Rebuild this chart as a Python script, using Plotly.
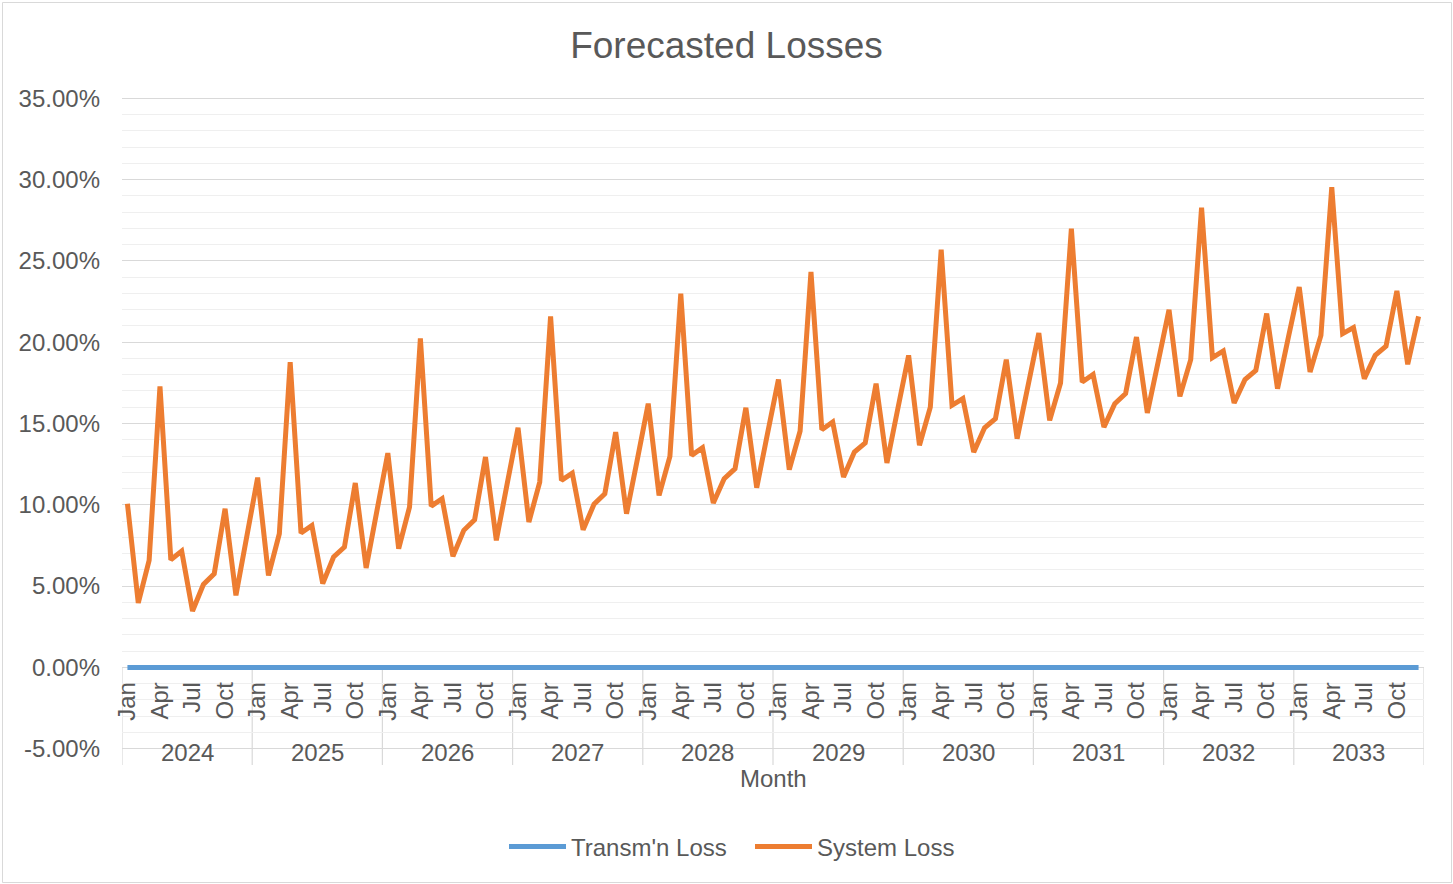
import plotly.graph_objects as go

# ---------------- data ----------------
years = ["2024", "2025", "2026", "2027", "2028", "2029", "2030", "2031", "2032", "2033"]
months = ["Jan", "Feb", "Mar", "Apr", "May", "Jun", "Jul", "Aug", "Sep", "Oct", "Nov", "Dec"]
shown_months = ["Jan", "Apr", "Jul", "Oct"]

# y-axis ticks (fractions) and their labels
y_ticks = [-0.05, 0.0, 0.05, 0.10, 0.15, 0.20, 0.25, 0.30, 0.35]
y_tick_labels = ["-5.00%", "0.00%", "5.00%", "10.00%", "15.00%", "20.00%",
                 "25.00%", "30.00%", "35.00%"]

# System Loss (%), one list per year (Jan..Dec)
sys_2024 = [10.07, 3.96, 6.58, 17.28, 6.62, 7.15, 3.47, 5.10, 5.76, 9.76, 4.43, 8.05]
sys_2025 = [11.67, 5.66, 8.22, 18.78, 8.26, 8.73, 5.15, 6.79, 7.40, 11.34, 6.11, 9.65]
sys_2026 = [13.18, 7.30, 9.86, 20.24, 9.92, 10.38, 6.83, 8.43, 9.08, 12.94, 7.81, 11.30]
sys_2027 = [14.74, 8.94, 11.40, 21.59, 11.50, 11.95, 8.47, 10.03, 10.68, 14.47, 9.45, 12.80]
sys_2028 = [16.22, 10.58, 12.98, 22.99, 13.04, 13.51, 10.11, 11.60, 12.22, 15.97, 11.05, 14.40]
sys_2029 = [17.70, 12.16, 14.54, 24.32, 14.62, 15.09, 11.71, 13.24, 13.80, 17.45, 12.57, 15.90]
sys_2030 = [19.19, 13.66, 16.01, 25.69, 16.12, 16.53, 13.24, 14.74, 15.30, 18.93, 14.07, 17.30]
sys_2031 = [20.56, 15.19, 17.49, 26.98, 17.55, 18.02, 14.78, 16.22, 16.84, 20.32, 15.65, 18.80]
sys_2032 = [22.00, 16.67, 18.93, 28.28, 19.05, 19.46, 16.26, 17.70, 18.27, 21.76, 17.14, 20.30]
sys_2033 = [23.39, 18.17, 20.42, 29.54, 20.53, 20.90, 17.76, 19.19, 19.75, 23.15, 18.64, 21.59]

# Transm'n Loss (%), Jan..Dec per year
trn_2024 = [0.0, 0.0, 0.0, 0.0, 0.0, 0.0, 0.0, 0.0, 0.0, 0.0, 0.0, 0.0]
trn_2025 = [0.0, 0.0, 0.0, 0.0, 0.0, 0.0, 0.0, 0.0, 0.0, 0.0, 0.0, 0.0]
trn_2026 = [0.0, 0.0, 0.0, 0.0, 0.0, 0.0, 0.0, 0.0, 0.0, 0.0, 0.0, 0.0]
trn_2027 = [0.0, 0.0, 0.0, 0.0, 0.0, 0.0, 0.0, 0.0, 0.0, 0.0, 0.0, 0.0]
trn_2028 = [0.0, 0.0, 0.0, 0.0, 0.0, 0.0, 0.0, 0.0, 0.0, 0.0, 0.0, 0.0]
trn_2029 = [0.0, 0.0, 0.0, 0.0, 0.0, 0.0, 0.0, 0.0, 0.0, 0.0, 0.0, 0.0]
trn_2030 = [0.0, 0.0, 0.0, 0.0, 0.0, 0.0, 0.0, 0.0, 0.0, 0.0, 0.0, 0.0]
trn_2031 = [0.0, 0.0, 0.0, 0.0, 0.0, 0.0, 0.0, 0.0, 0.0, 0.0, 0.0, 0.0]
trn_2032 = [0.0, 0.0, 0.0, 0.0, 0.0, 0.0, 0.0, 0.0, 0.0, 0.0, 0.0, 0.0]
trn_2033 = [0.0, 0.0, 0.0, 0.0, 0.0, 0.0, 0.0, 0.0, 0.0, 0.0, 0.0, 0.0]

system_loss = (sys_2024 + sys_2025 + sys_2026 + sys_2027 + sys_2028 +
               sys_2029 + sys_2030 + sys_2031 + sys_2032 + sys_2033)
transm_loss = (trn_2024 + trn_2025 + trn_2026 + trn_2027 + trn_2028 +
               trn_2029 + trn_2030 + trn_2031 + trn_2032 + trn_2033)

# ---------------- build ----------------
n = len(years) * len(months)
xs = list(range(n))
month_of = [months[i % 12] for i in xs]
hover = [f"{month_of[i]} {years[i // 12]}" for i in xs]

FONT = "Liberation Sans, Arial, sans-serif"
TXT = "#595959"
GRID = "#d9d9d9"
MINOR = "#efefef"
FS = 24

fig = go.Figure()
fig.add_trace(go.Scatter(
    x=xs, y=[v / 100 for v in transm_loss], name="Transm'n Loss",
    mode="lines", line=dict(color="#5b9bd5", width=5), text=hover,
    hovertemplate="%{text}: %{y:.2%}<extra>Transm'n Loss</extra>"))
fig.add_trace(go.Scatter(
    x=xs, y=[v / 100 for v in system_loss], name="System Loss",
    mode="lines", line=dict(color="#ed7d31", width=5), text=hover,
    hovertemplate="%{text}: %{y:.2%}<extra>System Loss</extra>"))

# plot area in pixels: x 122..1424, y 98..749
L, R, T, B = 122, 1424, 98, 749
W, H = R - L, B - T


def px(xp):
    return (xp - L) / W


def py(yp):
    return (B - yp) / H


y_lo, y_hi = -0.0502, 0.3502
y0_paper = (0 - y_lo) / (y_hi - y_lo)  # paper position of y = 0

tickvals = [i for i in xs if month_of[i] in shown_months]
ticktext = [month_of[i] for i in tickvals]

# minor gridlines every 1%, skipping the major 5% positions
minor_vals = [k / 100 for k in range(-5, 36) if k % 5 != 0]

shapes = []
# outermost major gridlines (plotly drops grid lines at the range edges)
for yv in (y_ticks[0], y_ticks[-1]):
    shapes.append(dict(type="line", xref="paper", yref="y", x0=0, x1=1,
                       y0=yv, y1=yv, line=dict(color=GRID, width=1.2),
                       layer="below"))
for k in range(len(years) + 1):
    shapes.append(dict(type="line", xref="x", yref="paper",
                       x0=k * 12 - 0.5, x1=k * 12 - 0.5,
                       y0=py(765), y1=y0_paper,
                       line=dict(color=GRID, width=1.2), layer="below"))
# chart border
shapes.append(dict(type="rect", xref="paper", yref="paper",
                   x0=px(2.5), x1=px(1451.5), y0=py(882.5), y1=py(2.5),
                   line=dict(color="#d9d9d9", width=1), layer="below"))

annotations = []
for k, yr in enumerate(years):
    annotations.append(dict(text=yr, xref="x", yref="paper", x=k * 12 + 5.5,
                            y=py(752), showarrow=False, xanchor="center",
                            yanchor="middle", font=dict(size=FS, color=TXT, family=FONT)))
annotations.append(dict(text="Month", xref="paper", yref="paper", x=px(773),
                        y=py(778), showarrow=False, xanchor="center", yanchor="middle",
                        font=dict(size=FS, color=TXT, family=FONT)))

fig.update_layout(
    width=1453, height=884,
    margin=dict(l=L, r=1453 - R, t=T, b=884 - B, autoexpand=False),
    paper_bgcolor="white", plot_bgcolor="white",
    font=dict(family=FONT, color=TXT, size=FS),
    title=dict(text="Forecasted Losses", x=0.5, xref="container", xanchor="center",
               y=1 - 45 / 884, yref="container", yanchor="middle",
               font=dict(size=37, color=TXT, family=FONT)),
    showlegend=True,
    legend=dict(orientation="h", x=px(750), xanchor="center", y=py(847),
                yanchor="middle", font=dict(size=FS, color=TXT, family=FONT),
                itemwidth=57, entrywidth=174, bgcolor="rgba(0,0,0,0)"),
    xaxis=dict(range=[-0.5, n - 0.5], anchor="free", position=y0_paper,
               tickmode="array", tickvals=tickvals, ticktext=ticktext,
               tickangle=-90, ticks="", showgrid=False, zeroline=False,
               showline=False, ticklabelstandoff=9,
               tickfont=dict(size=FS, color=TXT, family=FONT)),
    yaxis=dict(range=[y_lo, y_hi], tickmode="array", tickvals=y_ticks,
               ticktext=y_tick_labels,
               showgrid=True, gridcolor=GRID, gridwidth=1.2,
               zeroline=False, showline=False, ticks="", ticklabelstandoff=21,
               tickfont=dict(size=FS, color=TXT, family=FONT),
               minor=dict(tickmode="array", tickvals=minor_vals, showgrid=True,
                          gridcolor=MINOR, gridwidth=1)),
    shapes=shapes,
    annotations=annotations,
    hovermode="closest",
)

fig.write_html("out.html", config={"displayModeBar": False},
               post_script="document.body.style.margin='0';")
